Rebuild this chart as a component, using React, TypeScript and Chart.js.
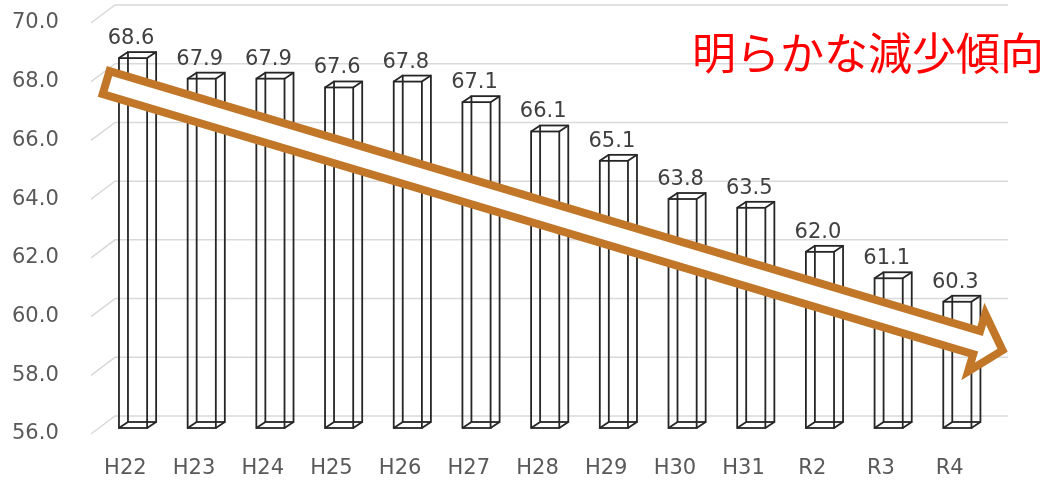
import { useEffect, useRef } from "react";
import { Chart, registerables } from "chart.js";

Chart.register(...registerables);

const categories = ["H22", "H23", "H24", "H25", "H26", "H27", "H28", "H29", "H30", "H31", "R2", "R3", "R4"];
const values = [68.6, 67.9, 67.9, 67.6, 67.8, 67.1, 66.1, 65.1, 63.8, 63.5, 62.0, 61.1, 60.3];
const yMin = 56;
const yMax = 70;
const yStep = 2;
const titleText = "明らかな減少傾向";
// trend arrow anchored in data space (category index, value)
const arrowFrom = { index: -0.28, value: 67.97 };
const arrowTo = { index: 12.77, value: 58.85 };

const FONT = "'DejaVu Sans', sans-serif";
const WALL_DX = 24;
const WALL_DY = -18;
const BAR_SHIFT_X = 7.7;
const BAR_DY = -6;
const DEPTH_DX = 9;
const DEPTH_DY = -6;
const ARROW_COLOR = "#C27628";

function idxToPx(xs: any, f: number) {
  const p0 = xs.getPixelForValue(0);
  const p1 = xs.getPixelForValue(1);
  return p0 + f * (p1 - p0);
}

const threeD = {
  id: "threeD",
  beforeDatasetsDraw(chart: any) {
    const { ctx, chartArea, scales } = chart;
    const y = scales.y;
    ctx.save();
    ctx.strokeStyle = "#d9d9d9";
    ctx.lineWidth = 1.5;
    y.ticks.forEach((t: any) => {
      const py = y.getPixelForValue(t.value);
      ctx.beginPath();
      ctx.moveTo(chartArea.left, py);
      ctx.lineTo(chartArea.left + WALL_DX, py + WALL_DY);
      ctx.lineTo(chartArea.right + WALL_DX, py + WALL_DY);
      ctx.stroke();
    });
    ctx.restore();
  },
  afterDatasetsDraw(chart: any) {
    const { ctx, scales } = chart;
    const y = scales.y;
    const xs = scales.x;
    const meta = chart.getDatasetMeta(0);
    ctx.save();
    ctx.strokeStyle = "#262626";
    ctx.lineWidth = 1.8;
    ctx.lineJoin = "miter";
    meta.data.forEach((el: any, i: number) => {
      const props = el.getProps(["x", "width"], true);
      const cx = props.x + BAR_SHIFT_X;
      const w = props.width;
      const x0 = cx - w / 2;
      const yt = y.getPixelForValue(values[i]) + BAR_DY;
      const yb = y.getPixelForValue(yMin) + BAR_DY;
      const h = yb - yt;
      ctx.strokeRect(x0, yt, w, h);
      ctx.strokeRect(x0 + DEPTH_DX, yt + DEPTH_DY, w, h);
      ctx.beginPath();
      const corners = [
        [x0, yt],
        [x0 + w, yt],
        [x0, yb],
        [x0 + w, yb],
      ];
      corners.forEach(([px, py]) => {
        ctx.moveTo(px, py);
        ctx.lineTo(px + DEPTH_DX, py + DEPTH_DY);
      });
      ctx.stroke();
      // value label
      ctx.fillStyle = "#404040";
      ctx.font = `21px ${FONT}`;
      ctx.textAlign = "center";
      ctx.textBaseline = "alphabetic";
      ctx.fillText(values[i].toFixed(1), cx - 2, yt + DEPTH_DY - 8);
    });

    // arrow
    const sx = idxToPx(xs, arrowFrom.index);
    const sy = y.getPixelForValue(arrowFrom.value);
    const tx = idxToPx(xs, arrowTo.index);
    const ty = y.getPixelForValue(arrowTo.value);
    const L = Math.hypot(tx - sx, ty - sy);
    const dx = (tx - sx) / L;
    const dy = (ty - sy) / L;
    const nx = -dy;
    const ny = dx;
    const SH = 12;
    const HH = 30;
    const HL = 27;
    const pt = (u: number, v: number) => [sx + dx * u + nx * v, sy + dy * u + ny * v];
    const pts = [
      pt(0, -SH),
      pt(L - HL, -SH),
      pt(L - HL, -HH),
      pt(L, 0),
      pt(L - HL, HH),
      pt(L - HL, SH),
      pt(0, SH),
    ];
    ctx.beginPath();
    pts.forEach(([px, py], k) => (k === 0 ? ctx.moveTo(px, py) : ctx.lineTo(px, py)));
    ctx.closePath();
    ctx.fillStyle = "#ffffff";
    ctx.fill();
    ctx.strokeStyle = ARROW_COLOR;
    ctx.lineWidth = 8;
    ctx.lineJoin = "miter";
    ctx.miterLimit = 10;
    ctx.stroke();
    ctx.restore();
  },
  afterDraw(chart: any) {
    const { ctx } = chart;
    ctx.save();
    ctx.fillStyle = "#ff0000";
    ctx.font = `44px 'Noto Sans CJK JP', sans-serif`;
    ctx.textAlign = "right";
    ctx.textBaseline = "middle";
    ctx.fillText(titleText, chart.width - 4, 53);
    ctx.restore();
  },
};

export default function App() {
  const ref = useRef<HTMLCanvasElement | null>(null);
  useEffect(() => {
    document.body.style.margin = "0";
    if (!ref.current) return;
    const chart = new Chart(ref.current, {
      type: "bar",
      data: {
        labels: categories,
        datasets: [
          {
            data: values,
            backgroundColor: "rgba(0,0,0,0)",
            borderWidth: 0,
            barPercentage: 0.41,
            categoryPercentage: 1,
          },
        ],
      },
      options: {
        animation: false,
        responsive: true,
        maintainAspectRatio: false,
        layout: { padding: { top: 23, right: 64, left: 12, bottom: 0 } },
        plugins: { legend: { display: false }, tooltip: { enabled: false } },
        scales: {
          x: {
            type: "category",
            grid: { display: false, drawTicks: false },
            border: { display: false },
            ticks: { font: { family: FONT, size: 21 }, color: "#595959", padding: 22, maxRotation: 0 },
            afterFit(s: any) {
              s.height = 48;
            },
          },
          y: {
            min: yMin,
            max: yMax,
            grid: { display: false, drawTicks: false },
            border: { display: false },
            ticks: {
              stepSize: yStep,
              font: { family: FONT, size: 21 },
              color: "#595959",
              padding: 0,
              crossAlign: "far",
              callback: (v: any) => Number(v).toFixed(1),
            },
            afterFit(s: any) {
              s.width = 79;
            },
          },
        },
      },
      plugins: [threeD],
    });
    return () => chart.destroy();
  }, []);
  return (
    <div style={{ position: "fixed", left: 0, top: 0, width: 1048, height: 482, background: "#fff" }}>
      <canvas ref={ref} />
    </div>
  );
}
